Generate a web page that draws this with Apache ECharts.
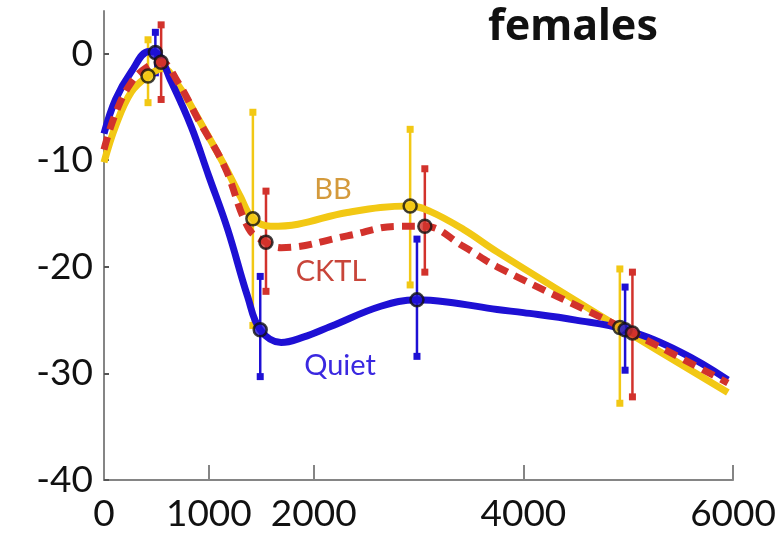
<!DOCTYPE html>
<html>
<head>
<meta charset="utf-8">
<script src="https://cdn.jsdelivr.net/npm/echarts@6/dist/echarts.min.js"></script>
<style>
  html, body { margin: 0; padding: 0; background: #fff; }
  #main { width: 779px; height: 533px; }
</style>
</head>
<body>
<div id="main"></div>
<script>
// curves: [x, y]
var quietCurve = [[0,-7.5],[110,-4.3],[260,-1.7],[430,0.2],[500,0.1],[640,-2.6],[830,-6.8],[1000,-11.5],[1180,-16.5],[1370,-22.8],[1490,-25.9],[1690,-27.1],[1900,-26.6],[2160,-25.6],[2640,-23.7],[2985,-23.1],[3270,-23.3],[3750,-24.0],[4000,-24.3],[4500,-25.0],[4970,-25.9],[5500,-28.0],[5950,-30.6]];
var bbCurve = [[0,-10.2],[110,-6.8],[260,-3.6],[420,-2.1],[560,-1.4],[710,-3.0],[900,-6.1],[1150,-10.5],[1300,-13.4],[1420,-15.5],[1590,-16.2],[1850,-16.0],[2320,-14.9],[2920,-14.3],[3110,-14.8],[3430,-16.5],[3750,-18.6],[4920,-25.7],[5950,-31.8]];
var cktlCurve = [[0,-9.0],[110,-5.6],[260,-2.7],[420,-1.2],[545,-0.8],[700,-2.6],[900,-6.2],[1150,-10.6],[1380,-16.4],[1545,-17.7],[1690,-18.2],[2320,-17.1],[2800,-16.2],[3060,-16.2],[3430,-18.1],[3750,-20.0],[5040,-26.2],[5950,-30.9]];

// measured points with error bars
var bbX = [420, 1420, 2920, 4920];
var bbMean = [-2.1, -15.5, -14.3, -25.7];
var bbLow = [-4.6, -25.5, -21.7, -32.8];
var bbHigh = [1.3, -5.5, -7.1, -20.2];

var cktlX = [545, 1545, 3060, 5040];
var cktlMean = [-0.8, -17.7, -16.2, -26.2];
var cktlLow = [-4.3, -22.3, -20.5, -32.2];
var cktlHigh = [2.7, -12.9, -10.8, -20.5];

var quietX = [490, 1490, 2985, 4970];
var quietMean = [0.1, -25.9, -23.1, -25.9];
var quietLow = [-1.8, -30.3, -28.4, -29.7];
var quietHigh = [2.0, -20.9, -17.4, -21.9];

var xLabels = [0, 1000, 2000, 4000, 6000];
var xTicks = [1000, 2000, 4000, 6000];
var yLabels = [-40, -30, -20, -10, 0];

var YELLOW = '#f2c814', RED = '#d2322c', BLUE = '#1e10d4';

function zip(a, b) { return a.map(function (v, i) { return [v, b[i]]; }); }
function bars(x, lo, hi) { return x.map(function (v, i) { return [v, lo[i], hi[i]]; }); }

function errRender(color) {
  return function (params, api) {
    var top = api.coord([api.value(0), api.value(2)]);
    var bot = api.coord([api.value(0), api.value(1)]);
    var s = 7;
    return {
      type: 'group',
      children: [
        { type: 'line', shape: { x1: top[0], y1: top[1], x2: bot[0], y2: bot[1] }, style: { stroke: color, lineWidth: 2.5 } },
        { type: 'rect', shape: { x: top[0] - s / 2, y: top[1] - s / 2, width: s, height: s }, style: { fill: color } },
        { type: 'rect', shape: { x: bot[0] - s / 2, y: bot[1] - s / 2, width: s, height: s }, style: { fill: color } }
      ]
    };
  };
}

function curve(name, data, color, dashed, z) {
  return {
    name: name, type: 'line', data: data, smooth: 0.4, showSymbol: false, z: z,
    lineStyle: { color: color, width: 7, type: dashed ? [13, 8] : 'solid', cap: 'butt' }
  };
}
function errSeries(data, color, z) {
  return { type: 'custom', data: data, renderItem: errRender(color), z: z, encode: { x: 0, y: [1, 2] } };
}
function dots(data, color) {
  return {
    type: 'scatter', data: data, symbol: 'circle', symbolSize: 13, z: 10,
    itemStyle: { color: color, borderColor: '#111', borderWidth: 2.5 }
  };
}

var chart = echarts.init(document.getElementById('main'));
var labelFont = { fontFamily: 'Lato', fontSize: 37, color: '#111' };
var plain = function (v) { return String(v); };

chart.setOption({
  animation: false,
  grid: { left: 104, right: 40, top: 11, bottom: 51 },
  xAxis: {
    type: 'value', min: 0, max: 6000, interval: 1000,
    splitLine: { show: false },
    axisLine: { onZero: false, lineStyle: { color: '#858585', width: 2 } },
    axisTick: { show: true, inside: true, length: 15, customValues: xTicks, lineStyle: { color: '#858585', width: 2 } },
    axisLabel: Object.assign({ margin: 16, customValues: xLabels, formatter: plain }, labelFont)
  },
  yAxis: {
    type: 'value', min: -40, max: 4, interval: 10,
    splitLine: { show: false },
    axisLine: { show: true, onZero: false, lineStyle: { color: '#858585', width: 2 } },
    axisTick: { show: true, inside: true, length: 5, customValues: yLabels, lineStyle: { color: '#555', width: 2 } },
    axisLabel: Object.assign({ margin: 11, customValues: yLabels, formatter: plain }, labelFont)
  },
  series: [
    errSeries(bars(bbX, bbLow, bbHigh), YELLOW, 1),
    errSeries(bars(quietX, quietLow, quietHigh), BLUE, 1),
    errSeries(bars(cktlX, cktlLow, cktlHigh), RED, 1),
    curve('BB', bbCurve, YELLOW, false, 3),
    curve('Quiet', quietCurve, BLUE, false, 4),
    curve('CKTL', cktlCurve, RED, true, 5),
    dots(zip(bbX, bbMean), YELLOW),
    dots(zip(quietX, quietMean), BLUE),
    dots(zip(cktlX, cktlMean), RED)
  ],
  graphic: [
    { type: 'text', left: 488, top: 6, style: { text: 'females', font: 'bold 43px "Noto Sans"', fill: '#111' } },
    { type: 'text', x: 333, y: 190, style: { text: 'BB', font: '29px Lato', fill: '#d49a3c', align: 'center', verticalAlign: 'middle' } },
    { type: 'text', x: 331, y: 272, style: { text: 'CKTL', font: '29px Lato', fill: '#c8453a', align: 'center', verticalAlign: 'middle' } },
    { type: 'text', x: 340, y: 366, style: { text: 'Quiet', font: '29px Lato', fill: '#3a28e0', align: 'center', verticalAlign: 'middle' } }
  ]
});
</script>
</body>
</html>
